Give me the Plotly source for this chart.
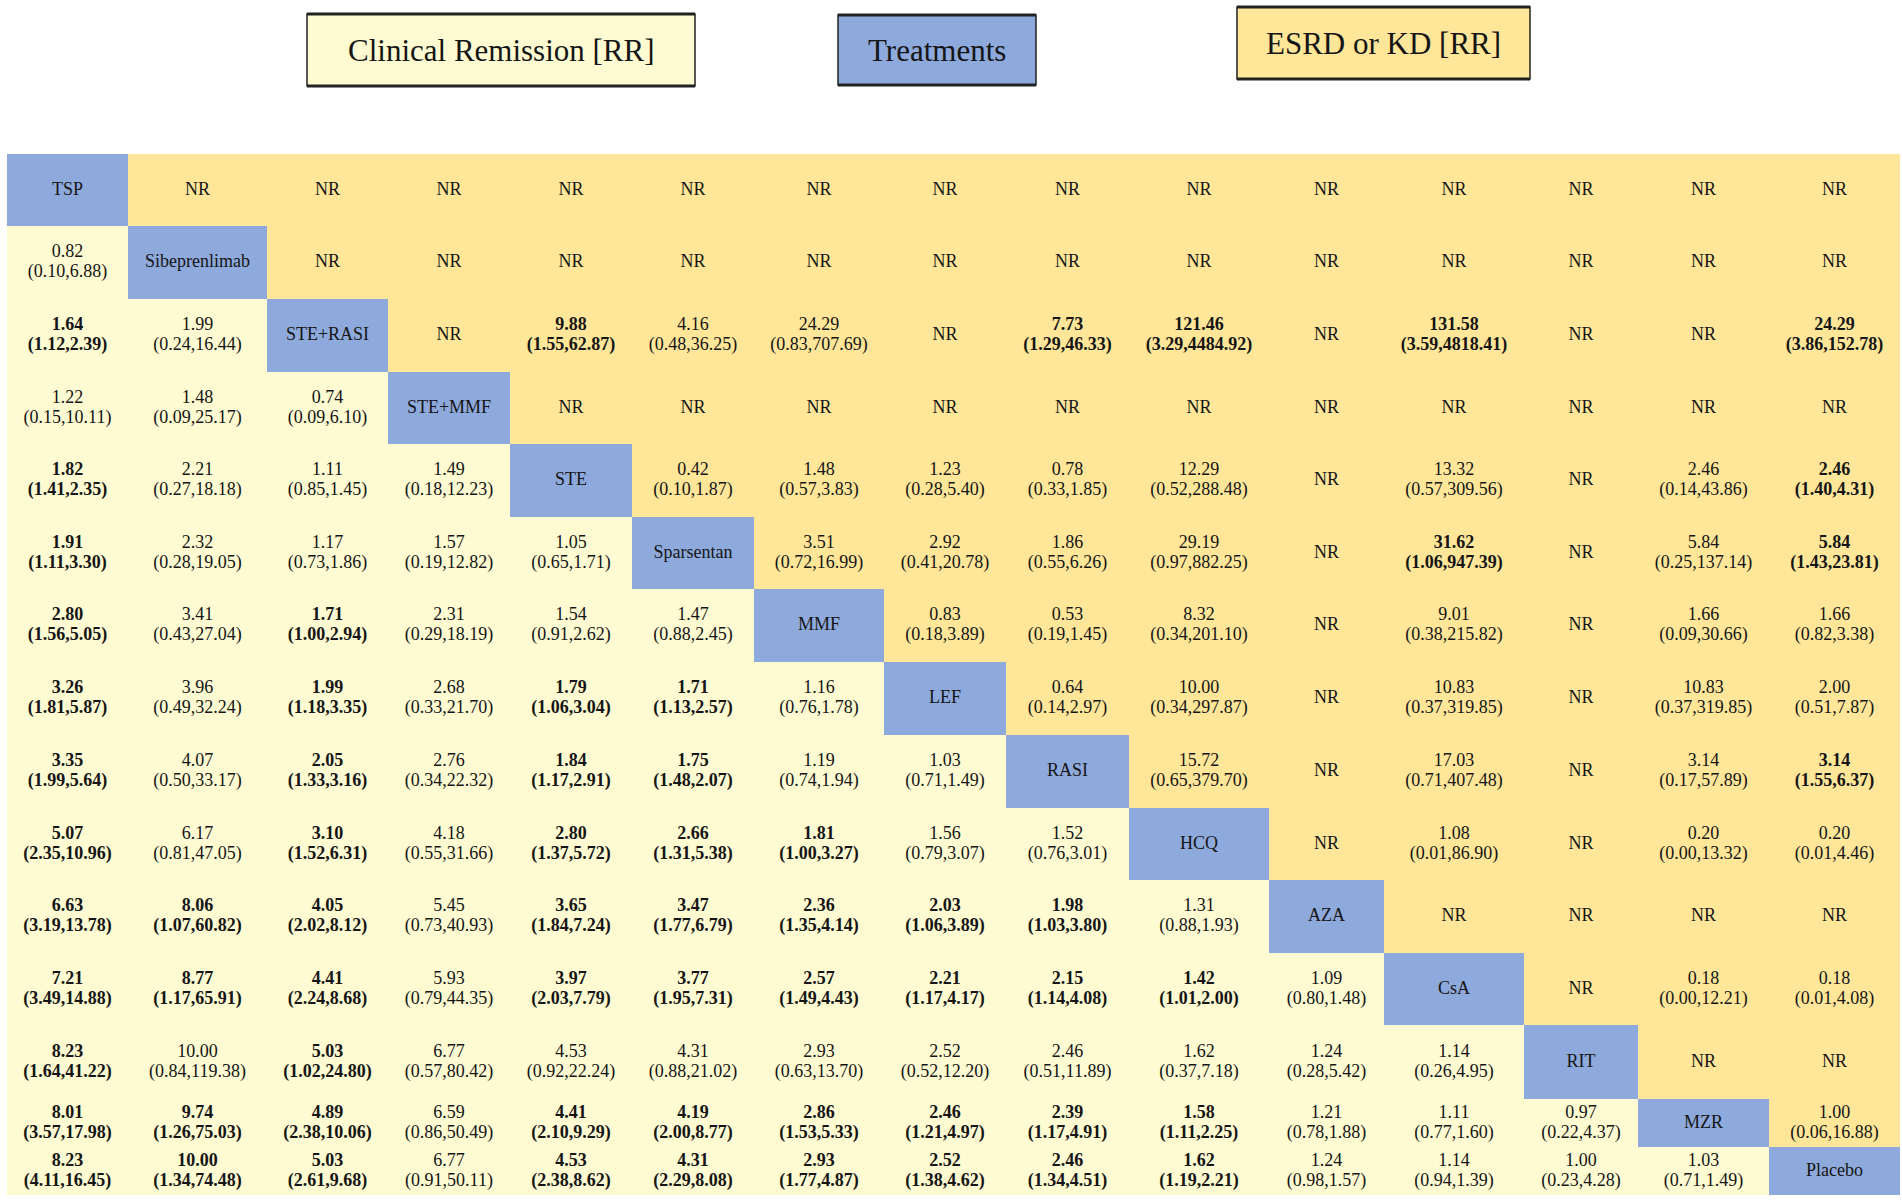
import plotly.graph_objects as go

# --- Data ---
treatments = ["TSP", "Sibeprenlimab", "STE+RASI", "STE+MMF", "STE", "Sparsentan", "MMF",
              "LEF", "RASI", "HCQ", "AZA", "CsA", "RIT", "MZR", "Placebo"]

# Clinical remission RR (lower triangle), row i holds comparisons with columns 0..i-1
remission = [
    [(0.82, 0.10, 6.88)],
    [(1.64, 1.12, 2.39), (1.99, 0.24, 16.44)],
    [(1.22, 0.15, 10.11), (1.48, 0.09, 25.17), (0.74, 0.09, 6.10)],
    [(1.82, 1.41, 2.35), (2.21, 0.27, 18.18), (1.11, 0.85, 1.45), (1.49, 0.18, 12.23)],
    [(1.91, 1.11, 3.30), (2.32, 0.28, 19.05), (1.17, 0.73, 1.86), (1.57, 0.19, 12.82), (1.05, 0.65, 1.71)],
    [(2.80, 1.56, 5.05), (3.41, 0.43, 27.04), (1.71, 1.00, 2.94), (2.31, 0.29, 18.19), (1.54, 0.91, 2.62),
     (1.47, 0.88, 2.45)],
    [(3.26, 1.81, 5.87), (3.96, 0.49, 32.24), (1.99, 1.18, 3.35), (2.68, 0.33, 21.70), (1.79, 1.06, 3.04),
     (1.71, 1.13, 2.57), (1.16, 0.76, 1.78)],
    [(3.35, 1.99, 5.64), (4.07, 0.50, 33.17), (2.05, 1.33, 3.16), (2.76, 0.34, 22.32), (1.84, 1.17, 2.91),
     (1.75, 1.48, 2.07), (1.19, 0.74, 1.94), (1.03, 0.71, 1.49)],
    [(5.07, 2.35, 10.96), (6.17, 0.81, 47.05), (3.10, 1.52, 6.31), (4.18, 0.55, 31.66), (2.80, 1.37, 5.72),
     (2.66, 1.31, 5.38), (1.81, 1.00, 3.27), (1.56, 0.79, 3.07), (1.52, 0.76, 3.01)],
    [(6.63, 3.19, 13.78), (8.06, 1.07, 60.82), (4.05, 2.02, 8.12), (5.45, 0.73, 40.93), (3.65, 1.84, 7.24),
     (3.47, 1.77, 6.79), (2.36, 1.35, 4.14), (2.03, 1.06, 3.89), (1.98, 1.03, 3.80), (1.31, 0.88, 1.93)],
    [(7.21, 3.49, 14.88), (8.77, 1.17, 65.91), (4.41, 2.24, 8.68), (5.93, 0.79, 44.35), (3.97, 2.03, 7.79),
     (3.77, 1.95, 7.31), (2.57, 1.49, 4.43), (2.21, 1.17, 4.17), (2.15, 1.14, 4.08), (1.42, 1.01, 2.00),
     (1.09, 0.80, 1.48)],
    [(8.23, 1.64, 41.22), (10.00, 0.84, 119.38), (5.03, 1.02, 24.80), (6.77, 0.57, 80.42), (4.53, 0.92, 22.24),
     (4.31, 0.88, 21.02), (2.93, 0.63, 13.70), (2.52, 0.52, 12.20), (2.46, 0.51, 11.89), (1.62, 0.37, 7.18),
     (1.24, 0.28, 5.42), (1.14, 0.26, 4.95)],
    [(8.01, 3.57, 17.98), (9.74, 1.26, 75.03), (4.89, 2.38, 10.06), (6.59, 0.86, 50.49), (4.41, 2.10, 9.29),
     (4.19, 2.00, 8.77), (2.86, 1.53, 5.33), (2.46, 1.21, 4.97), (2.39, 1.17, 4.91), (1.58, 1.11, 2.25),
     (1.21, 0.78, 1.88), (1.11, 0.77, 1.60), (0.97, 0.22, 4.37)],
    [(8.23, 4.11, 16.45), (10.00, 1.34, 74.48), (5.03, 2.61, 9.68), (6.77, 0.91, 50.11), (4.53, 2.38, 8.62),
     (4.31, 2.29, 8.08), (2.93, 1.77, 4.87), (2.52, 1.38, 4.62), (2.46, 1.34, 4.51), (1.62, 1.19, 2.21),
     (1.24, 0.98, 1.57), (1.14, 0.94, 1.39), (1.00, 0.23, 4.28), (1.03, 0.71, 1.49)],
]

# ESRD or KD RR (upper triangle), row i holds comparisons with columns i+1..14; None = NR
NR = None
esrd = [
    [NR] * 14,
    [NR] * 13,
    [NR, (9.88, 1.55, 62.87), (4.16, 0.48, 36.25), (24.29, 0.83, 707.69), NR, (7.73, 1.29, 46.33),
     (121.46, 3.29, 4484.92), NR, (131.58, 3.59, 4818.41), NR, NR, (24.29, 3.86, 152.78)],
    [NR] * 11,
    [(0.42, 0.10, 1.87), (1.48, 0.57, 3.83), (1.23, 0.28, 5.40), (0.78, 0.33, 1.85), (12.29, 0.52, 288.48),
     NR, (13.32, 0.57, 309.56), NR, (2.46, 0.14, 43.86), (2.46, 1.40, 4.31)],
    [(3.51, 0.72, 16.99), (2.92, 0.41, 20.78), (1.86, 0.55, 6.26), (29.19, 0.97, 882.25), NR,
     (31.62, 1.06, 947.39), NR, (5.84, 0.25, 137.14), (5.84, 1.43, 23.81)],
    [(0.83, 0.18, 3.89), (0.53, 0.19, 1.45), (8.32, 0.34, 201.10), NR, (9.01, 0.38, 215.82), NR,
     (1.66, 0.09, 30.66), (1.66, 0.82, 3.38)],
    [(0.64, 0.14, 2.97), (10.00, 0.34, 297.87), NR, (10.83, 0.37, 319.85), NR, (10.83, 0.37, 319.85),
     (2.00, 0.51, 7.87)],
    [(15.72, 0.65, 379.70), NR, (17.03, 0.71, 407.48), NR, (3.14, 0.17, 57.89), (3.14, 1.55, 6.37)],
    [NR, (1.08, 0.01, 86.90), NR, (0.20, 0.00, 13.32), (0.20, 0.01, 4.46)],
    [NR, NR, NR, NR],
    [NR, (0.18, 0.00, 12.21), (0.18, 0.01, 4.08)],
    [NR, NR],
    [(1.00, 0.06, 16.88)],
]

# --- Layout (pixel grid of the table) ---
col_edges = [7, 128, 267, 388, 510, 632, 754, 884, 1006, 1129, 1269, 1384, 1524, 1638, 1769, 1900]
row_edges = [154, 226, 299, 372, 444, 517, 589, 662, 735, 808, 880, 953, 1025, 1099, 1147, 1195]
LINE_GAP = 10

LOWER = "#FEFBD2"
DIAG = "#8EA9DB"
UPPER = "#FFE699"
FONT = "Liberation Serif"
INK = "#151515"


def split(v):
    """Return (top line, bottom line) for a cell; bottom is None for one-line cells."""
    if v is None:
        return "NR", None
    est, lo, hi = v
    a, b = f"{est:.2f}", f"({lo:.2f},{hi:.2f})"
    if lo >= 1 or hi < 1:
        return f"<b>{a}</b>", f"<b>{b}</b>"
    return a, b


n = len(treatments)
z = []
one_x, one_y, one_t = [], [], []
two_x, top_y, top_t, bot_y, bot_t = [], [], [], [], []
for i in range(n):
    z.append([0 if j < i else (1 if j == i else 2) for j in range(n)])
    cy = (row_edges[i] + row_edges[i + 1]) / 2
    for j in range(n):
        cx = (col_edges[j] + col_edges[j + 1]) / 2
        if j < i:
            a, b = split(remission[i - 1][j])
        elif j == i:
            a, b = treatments[i], None
        else:
            a, b = split(esrd[i][j - i - 1])
        if b is None:
            one_x.append(cx); one_y.append(cy); one_t.append(a)
        else:
            two_x.append(cx)
            top_y.append(cy - LINE_GAP); top_t.append(a)
            bot_y.append(cy + LINE_GAP); bot_t.append(b)

fig = go.Figure()
fig.add_trace(go.Heatmap(
    z=z, x=col_edges, y=row_edges, zmin=0, zmax=2, showscale=False, hoverinfo="skip",
    colorscale=[[0, LOWER], [0.33, LOWER], [0.33, DIAG], [0.67, DIAG], [0.67, UPPER], [1, UPPER]],
))
for xx, yy, tt in [(one_x, one_y, one_t), (two_x, top_y, top_t), (two_x, bot_y, bot_t)]:
    fig.add_trace(go.Scatter(
        x=xx, y=yy, text=tt, mode="text", hoverinfo="skip",
        textfont=dict(family=FONT, size=18, color=INK),
    ))

# header boxes
headers = [
    ("Clinical Remission [RR]", 307, 695, 14, 86, LOWER),
    ("Treatments", 838, 1036, 15, 85, DIAG),
    ("ESRD or KD [RR]", 1237, 1530, 7, 79, UPPER),
]
for label, x0, x1, y0, y1, fill in headers:
    fig.add_shape(type="rect", x0=x0, x1=x1, y0=y0, y1=y1, fillcolor=fill,
                  line=dict(color="#222222", width=1.5))
    for yy in (y0, y1):
        fig.add_shape(type="line", x0=x0, x1=x1, y0=yy, y1=yy, line=dict(color="#222222", width=3))
    fig.add_annotation(x=(x0 + x1) / 2, y=(y0 + y1) / 2, text=label, showarrow=False,
                       font=dict(family=FONT, size=31, color=INK))

fig.update_layout(
    width=1902, height=1202,
    margin=dict(l=0, r=0, t=0, b=0),
    paper_bgcolor="white", plot_bgcolor="white",
    showlegend=False,
    xaxis=dict(range=[0, 1902], visible=False, fixedrange=True),
    yaxis=dict(range=[1202, 0], visible=False, fixedrange=True),
)

fig.write_html("out.html", config={"displayModeBar": False},
               post_script="document.body.style.margin='0';")
